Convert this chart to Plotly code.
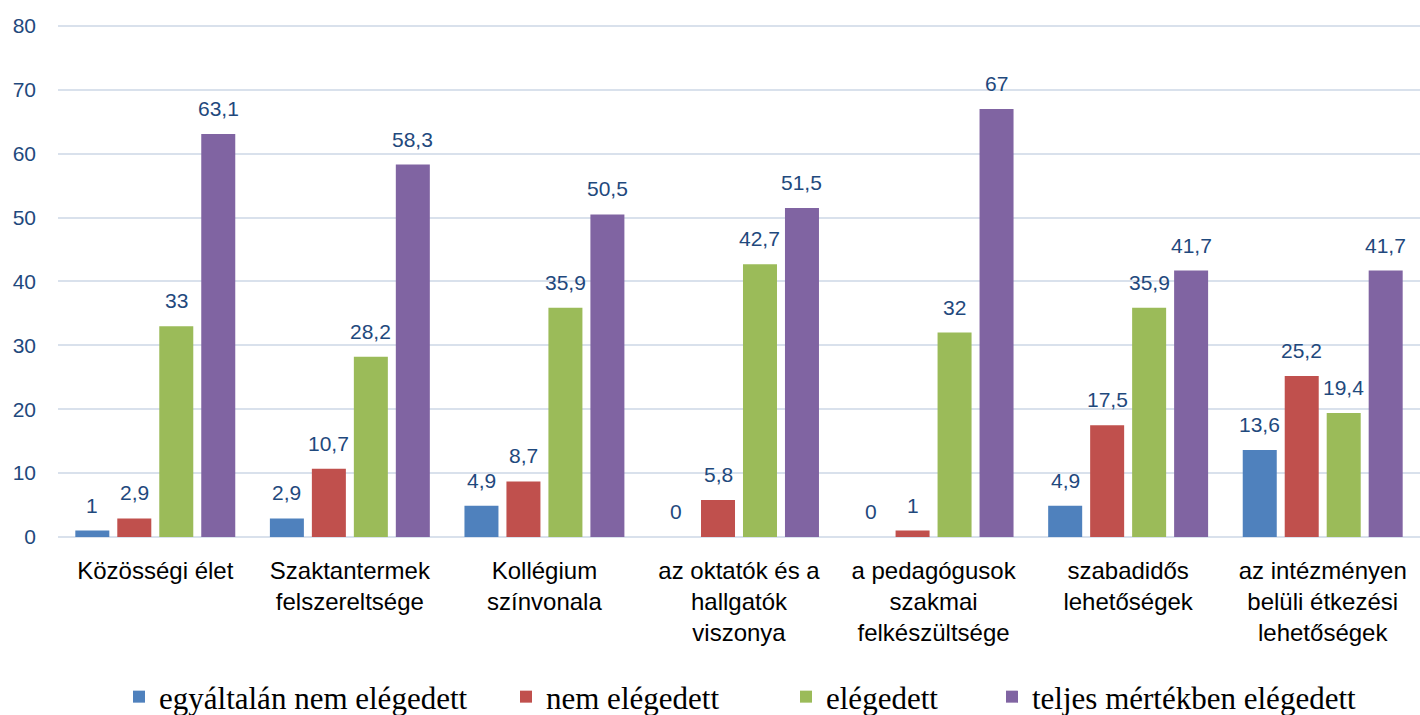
import plotly.graph_objects as go

categories = [
    "Közösségi élet",
    "Szaktantermek<br>felszereltsége",
    "Kollégium<br>színvonala",
    "az oktatók és a<br>hallgatók<br>viszonya",
    "a pedagógusok<br>szakmai<br>felkészültsége",
    "szabadidős<br>lehetőségek",
    "az intézményen<br>belüli étkezési<br>lehetőségek",
]
series_names = [
    "egyáltalán nem elégedett",
    "nem elégedett",
    "elégedett",
    "teljes mértékben elégedett",
]
egyaltalan_nem = [1, 2.9, 4.9, 0, 0, 4.9, 13.6]
nem_elegedett = [2.9, 10.7, 8.7, 5.8, 1, 17.5, 25.2]
elegedett = [33, 28.2, 35.9, 42.7, 32, 35.9, 19.4]
teljes = [63.1, 58.3, 50.5, 51.5, 67, 41.7, 41.7]
y_ticks = [0, 10, 20, 30, 40, 50, 60, 70, 80]

colors = ["#4F81BD", "#C0504D", "#9BBB59", "#8064A2"]
all_values = [egyaltalan_nem, nem_elegedett, elegedett, teljes]

BARGAP = 0.137
BARGROUPGAP = 0.19
W, H = 1420, 715
ML, MR, MT, MB = 58, 0, 24, 178
Y_MAX = 80.3
# left edges (px) of the legend entries
legend_left_px = [119, 506, 786, 992]


def fmt(v):
    return f"{v:g}".replace(".", ",")


legend_ids = ["legend", "legend2", "legend3", "legend4"]

fig = go.Figure()
for name, vals, col, lid in zip(series_names, all_values, colors, legend_ids):
    fig.add_trace(go.Bar(
        name=name,
        x=categories,
        y=vals,
        legend=lid,
        marker=dict(color=col, line=dict(width=0)),
    ))

# value labels, positioned through the category axis at each bar's slot centre
n = len(all_values)
slot = (1 - BARGAP) / n
annotations = []
for i, vals in enumerate(all_values):
    for j, v in enumerate(vals):
        annotations.append(dict(
            x=j + (i - (n - 1) / 2) * slot,
            y=v,
            xref="x",
            yref="y",
            text=fmt(v),
            showarrow=False,
            yanchor="bottom",
            yshift=12,
            font=dict(family="Liberation Sans", size=21, color="#1F497D"),
        ))

plot_w = W - ML - MR
plot_h = H - MT - MB
legend_y = (H - MB - 697) / plot_h
legend_layout = {}
for lid, px in zip(legend_ids, legend_left_px):
    legend_layout[lid] = dict(
        orientation="h",
        x=(px - ML) / plot_w,
        xanchor="left",
        y=legend_y,
        yanchor="middle",
        bgcolor="rgba(0,0,0,0)",
        font=dict(family="Liberation Serif", size=31, color="black"),
    )

fig.update_layout(
    barmode="group",
    bargap=BARGAP,
    bargroupgap=BARGROUPGAP,
    width=W,
    height=H,
    margin=dict(l=ML, r=MR, t=MT, b=MB, autoexpand=False),
    plot_bgcolor="white",
    paper_bgcolor="white",
    showlegend=True,
    annotations=annotations,
    xaxis=dict(
        tickfont=dict(family="Liberation Sans", size=24, color="black"),
        showline=False,
        ticks="",
        automargin=False,
        ticklabelstandoff=17,
    ),
    yaxis=dict(
        range=[0, Y_MAX],
        tickvals=y_ticks,
        tickfont=dict(family="Liberation Sans", size=21, color="#1F497D"),
        showgrid=True,
        gridcolor="#D9E1EC",
        gridwidth=2,
        zeroline=True,
        zerolinecolor="#D9E1EC",
        zerolinewidth=2,
        ticks="",
        automargin=False,
        ticklabelstandoff=21,
    ),
    **legend_layout,
)

fig.write_html(
    "out.html",
    config={"displayModeBar": False},
    post_script="document.body.style.margin='0';document.body.style.padding='0';",
)
